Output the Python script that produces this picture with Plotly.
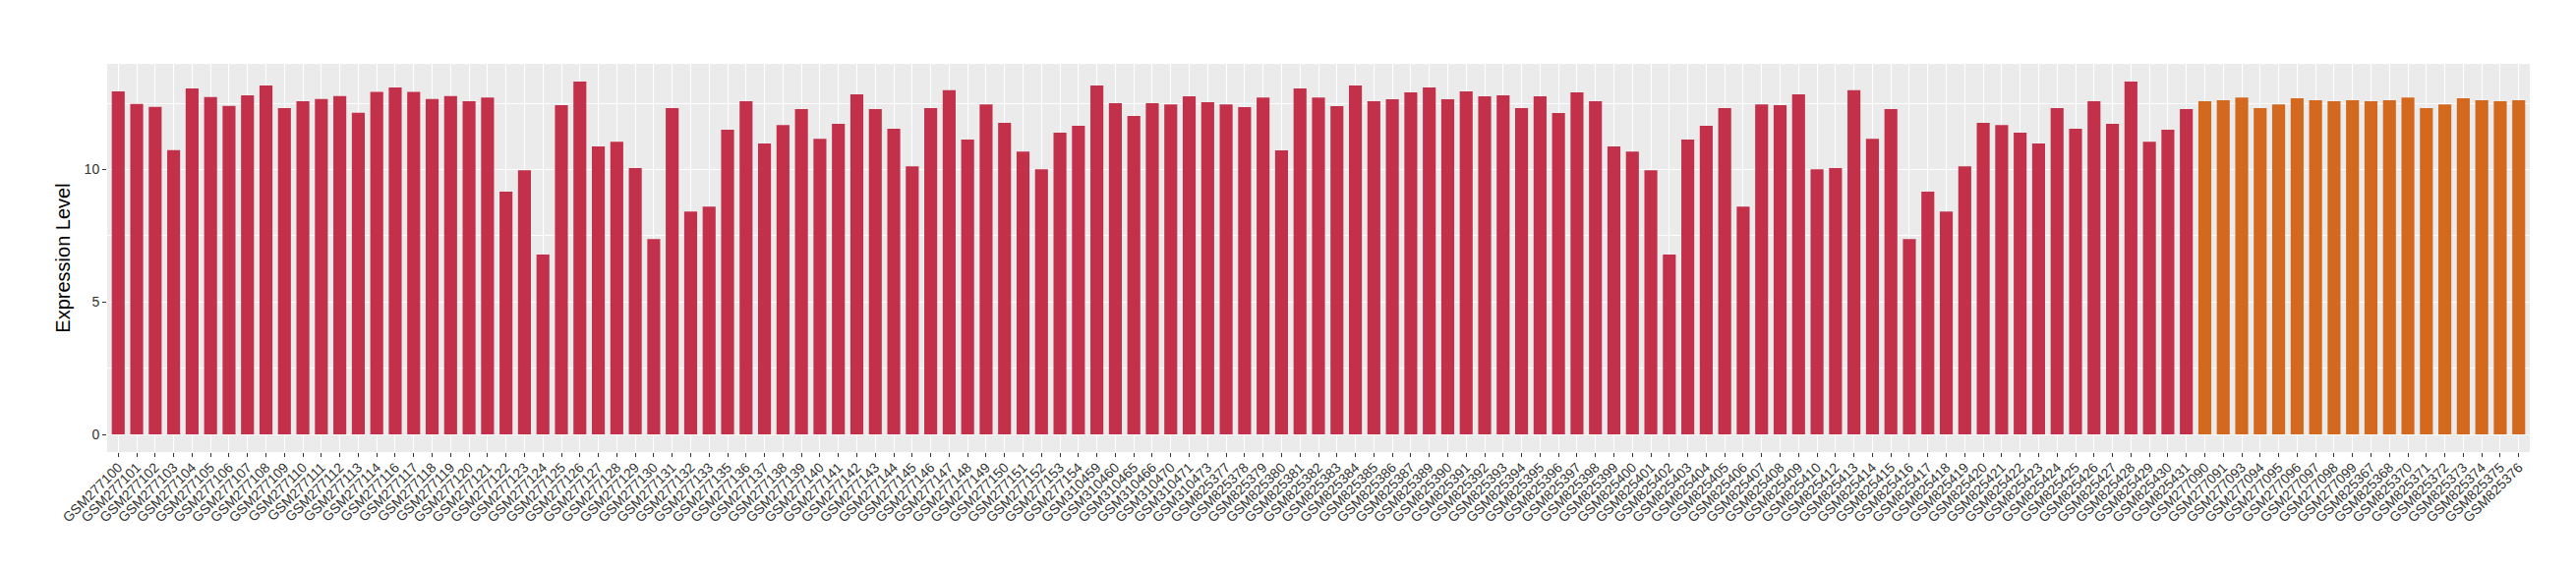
import plotly.graph_objects as go

red_samples = [
    "GSM277100", "GSM277101", "GSM277102", "GSM277103", "GSM277104", "GSM277105", "GSM277106",
    "GSM277107", "GSM277108", "GSM277109", "GSM277110", "GSM277111", "GSM277112", "GSM277113",
    "GSM277114", "GSM277116", "GSM277117", "GSM277118", "GSM277119", "GSM277120", "GSM277121",
    "GSM277122", "GSM277123", "GSM277124", "GSM277125", "GSM277126", "GSM277127", "GSM277128",
    "GSM277129", "GSM277130", "GSM277131", "GSM277132", "GSM277133", "GSM277135", "GSM277136",
    "GSM277137", "GSM277138", "GSM277139", "GSM277140", "GSM277141", "GSM277142", "GSM277143",
    "GSM277144", "GSM277145", "GSM277146", "GSM277147", "GSM277148", "GSM277149", "GSM277150",
    "GSM277151", "GSM277152", "GSM277153", "GSM277154",
    "GSM310459", "GSM310460", "GSM310465", "GSM310466", "GSM310470", "GSM310471", "GSM310473",
    "GSM825377", "GSM825378", "GSM825379", "GSM825380", "GSM825381", "GSM825382", "GSM825383",
    "GSM825384", "GSM825385", "GSM825386", "GSM825387", "GSM825389", "GSM825390", "GSM825391",
    "GSM825392", "GSM825393", "GSM825394", "GSM825395", "GSM825396", "GSM825397", "GSM825398",
    "GSM825399", "GSM825400", "GSM825401", "GSM825402", "GSM825403", "GSM825404", "GSM825405",
    "GSM825406", "GSM825407", "GSM825408", "GSM825409", "GSM825410", "GSM825412", "GSM825413",
    "GSM825414", "GSM825415", "GSM825416", "GSM825417", "GSM825418", "GSM825419", "GSM825420",
    "GSM825421", "GSM825422", "GSM825423", "GSM825424", "GSM825425", "GSM825426", "GSM825427",
    "GSM825428", "GSM825429", "GSM825430", "GSM825431",
]
red_values = [
    12.95, 12.47, 12.36, 10.73, 13.06, 12.73, 12.40,
    12.80, 13.17, 12.32, 12.58, 12.66, 12.77, 12.14,
    12.93, 13.10, 12.93, 12.66, 12.77, 12.58, 12.72,
    9.16, 9.97, 6.79, 12.43, 13.32, 10.87, 11.05,
    10.05, 7.37, 12.32, 8.41, 8.60, 11.50, 12.58,
    10.98, 11.68, 12.28, 11.16, 11.72, 12.84, 12.28,
    11.54, 10.12, 12.32, 12.99, 11.13, 12.46, 11.76,
    10.68, 10.01, 11.39, 11.65,
    13.17, 12.50, 12.02, 12.50, 12.46, 12.76, 12.54,
    12.46, 12.35, 12.72, 10.72, 13.06, 12.72, 12.39,
    13.17, 12.58, 12.65, 12.91, 13.10, 12.65, 12.95,
    12.76, 12.80, 12.32, 12.76, 12.13, 12.91, 12.58,
    10.87, 10.68, 9.97, 6.79, 11.13, 11.65, 12.32,
    8.60, 12.46, 12.43, 12.84, 10.01, 10.05, 12.99,
    11.16, 12.28, 7.37, 9.16, 8.41, 10.12, 11.76,
    11.68, 11.39, 10.98, 12.32, 11.54, 12.58, 11.72,
    13.32, 11.05, 11.50, 12.28,
]

orange_samples = [
    "GSM277090", "GSM277091", "GSM277093", "GSM277094", "GSM277095", "GSM277096",
    "GSM277097", "GSM277098", "GSM277099", "GSM825367", "GSM825368", "GSM825370",
    "GSM825371", "GSM825372", "GSM825373", "GSM825374", "GSM825375", "GSM825376",
]
orange_values = [
    12.58, 12.61, 12.72, 12.32, 12.46, 12.69,
    12.61, 12.58, 12.61, 12.58, 12.61, 12.72,
    12.32, 12.46, 12.69, 12.61, 12.58, 12.61,
]

red_color = "#C3304A"
orange_color = "#D2691E"

all_samples = red_samples + orange_samples
all_values = red_values + orange_values
ymax = max(all_values)
n = len(all_samples)

fig = go.Figure()
fig.add_trace(go.Bar(x=red_samples, y=red_values, marker_color=red_color,
                     marker_line_width=0, width=0.7, showlegend=False))
fig.add_trace(go.Bar(x=orange_samples, y=orange_values, marker_color=orange_color,
                     marker_line_width=0, width=0.7, showlegend=False))

font_family = "Liberation Sans, Arial, Helvetica, sans-serif"

fig.update_layout(
    width=2620, height=580,
    margin=dict(l=101, r=55, t=57, b=128),
    paper_bgcolor="white",
    plot_bgcolor="#EBEBEB",
    barmode="overlay",
    font=dict(family=font_family, color="#4D4D4D"),
)
fig.update_xaxes(
    type="category",
    categoryorder="array", categoryarray=all_samples,
    range=[-0.6, n - 1 + 0.6],
    showgrid=True, gridcolor="white", gridwidth=1.1,
    ticks="outside", ticklen=4, tickcolor="#333333", tickwidth=1,
    tickangle=-45,
    ticklabelstandoff=-3,
    tickfont=dict(size=14, color="#333333", family=font_family),
    zeroline=False, showline=False,
)
fig.update_yaxes(
    range=[-0.05 * ymax, 1.05 * ymax],
    tickvals=[0, 5, 10],
    showgrid=True, gridcolor="white", gridwidth=1.1,
    minor=dict(tickvals=[2.5, 7.5, 12.5], showgrid=True, gridcolor="white", gridwidth=0.55, ticks=""),
    ticks="outside", ticklen=4, tickcolor="#333333", tickwidth=1,
    tickfont=dict(size=14, color="#333333", family=font_family),
    zeroline=False, showline=False,
    title=dict(text="Expression Level", font=dict(size=20, color="black", family=font_family), standoff=8),
)

fig.write_html("out.html")
